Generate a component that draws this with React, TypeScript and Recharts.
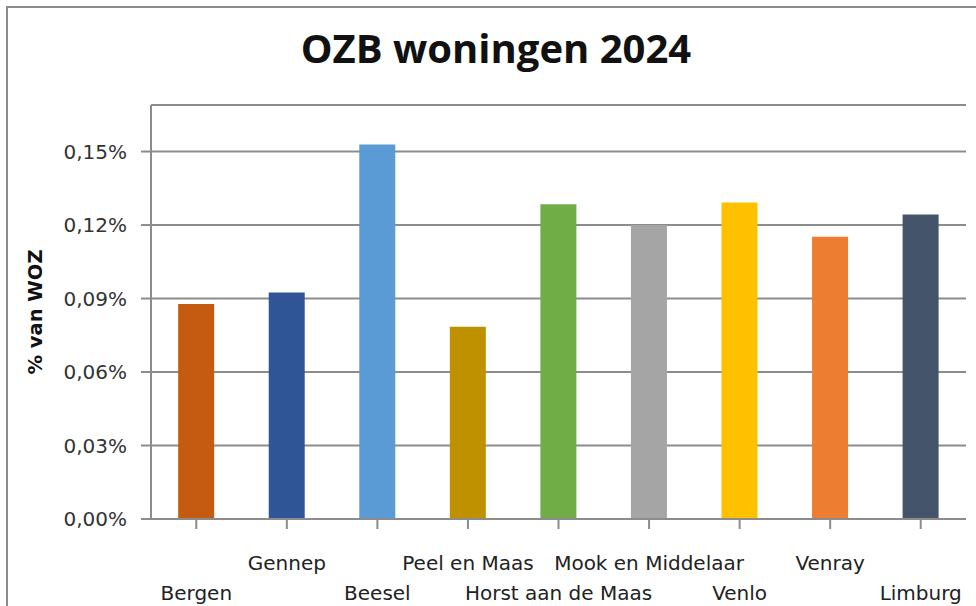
import React from 'react';
import { BarChart, Bar, XAxis, YAxis, CartesianGrid, Cell, Label } from 'recharts';

const gemeenten = ['Bergen', 'Gennep', 'Beesel', 'Peel en Maas', 'Horst aan de Maas', 'Mook en Middelaar', 'Venlo', 'Venray', 'Limburg'];
const ozbPercentage = [0.0878, 0.0925, 0.1529, 0.0785, 0.1285, 0.12, 0.1292, 0.1152, 0.1243];
const barKleuren = ['#C55A11', '#2F5597', '#5B9BD5', '#BF9000', '#70AD47', '#A5A5A5', '#FFC000', '#ED7D31', '#44546A'];
const yTicks = [0, 0.03, 0.06, 0.09, 0.12, 0.15];

const data = gemeenten.map((naam, i) => ({ naam, waarde: ozbPercentage[i] }));

const formatPct = (v: number) => v.toFixed(2).replace('.', ',') + '%';

// labels wisselen tussen twee regels, zoals in Excel
const StaggeredTick = ({ x, y, payload, index }: any) => {
  const dy = index % 2 === 0 ? 69 : 39;
  return (
    <text x={x} y={y + dy} textAnchor="middle" fill="#222" fontSize={20} fontFamily="DejaVu Sans">
      {payload.value}
    </text>
  );
};

export default function App() {
  return (
    <div style={{ position: 'absolute', left: 0, top: 0, width: 976, height: 606, overflow: 'hidden', background: '#fff' }}>
      <div style={{ position: 'absolute', left: 6, top: 6, width: 1200, height: 1200, borderLeft: '2px solid #8c8c8c', borderTop: '2px solid #8c8c8c' }} />
      <div style={{ position: 'absolute', left: 0, top: 20, width: 992, textAlign: 'center', fontFamily: 'Open Sans', fontWeight: 700, fontSize: 40, color: '#111' }}>
        OZB woningen 2024
      </div>
      <div style={{ position: 'absolute', left: 0, top: 0 }}>
        <BarChart width={976} height={606} data={data} margin={{ top: 105, right: 10, bottom: 0, left: 0 }} barCategoryGap="30%">
          <CartesianGrid vertical={false} stroke="#8c8c8c" strokeWidth={2} />
          <XAxis
            dataKey="naam"
            height={87}
            interval={0}
            tick={<StaggeredTick />}
            tickLine={{ stroke: '#8c8c8c', strokeWidth: 2 }}
            tickSize={10}
            axisLine={{ stroke: '#8c8c8c', strokeWidth: 2 }}
          />
          <YAxis
            width={151}
            domain={[0, 0.169]}
            ticks={yTicks}
            tickFormatter={formatPct}
            tick={{ fill: '#333', fontSize: 20, fontFamily: 'DejaVu Sans' }}
            tickSize={10}
            tickMargin={14}
            tickLine={{ stroke: '#8c8c8c', strokeWidth: 2 }}
            axisLine={{ stroke: '#8c8c8c', strokeWidth: 2 }}
          >
            <Label
              value="% van WOZ"
              angle={-90}
              position="insideLeft"
              offset={35}
              style={{ textAnchor: 'middle', fontFamily: 'DejaVu Sans', fontWeight: 700, fontSize: 19.5, fill: '#111' }}
            />
          </YAxis>
          <Bar dataKey="waarde" isAnimationActive={false}>
            {data.map((entry, index) => (
              <Cell key={`cell-${index}`} fill={barKleuren[index]} />
            ))}
          </Bar>
        </BarChart>
      </div>
    </div>
  );
}
